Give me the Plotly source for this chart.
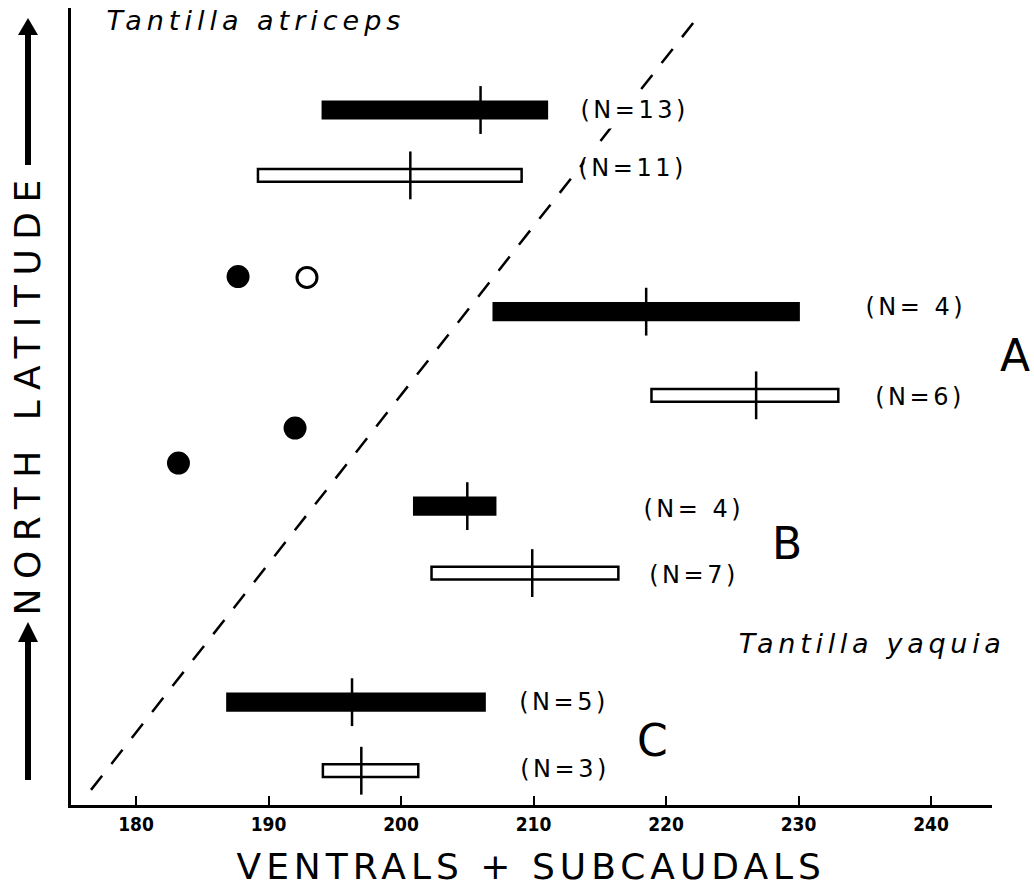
import json
import plotly.graph_objects as go

# ---------------- data ----------------
# horizontal range bars: ventrals+subcaudals, relative north-latitude position
bar_lat = [87.2, 79.0, 61.9, 51.4, 37.5, 29.1, 12.9, 4.3]
bar_min = [194.0, 189.2, 206.9, 218.9, 200.9, 202.3, 186.8, 194.1]
bar_max = [211.1, 209.1, 230.1, 233.0, 207.2, 216.4, 206.4, 201.3]
bar_mean = [206.0, 200.7, 218.5, 226.8, 205.0, 209.9, 196.3, 197.0]
bar_n = [13, 11, 4, 6, 4, 7, 5, 3]
bar_filled = [True, False, True, False, True, False, True, False]

# single specimens
dot_x = [187.7, 192.9, 192.0, 183.2]
dot_lat = [66.3, 66.2, 47.3, 42.9]
dot_filled = [True, False, True, True]

# dividing line between the two species
divider_x = [176.6, 222.6]
divider_lat = [1.9, 99.3]

x_ticks = [180, 190, 200, 210, 220, 230, 240]
group_labels = ["A", "B", "C"]
species = ["Tantilla atriceps", "Tantilla yaquia"]

# ---------------- layout constants (pixels) ----------------
W, H = 1034, 892
PX0, PX1, PY0, PY1 = 71, 992, 8, 805   # plot area in pixels
FONT = "DejaVu Sans, Verdana, sans-serif"


def pp(px, py):
    return (px - PX0) / (PX1 - PX0), (PY1 - py) / (PY1 - PY0)


fig = go.Figure()

fi = [i for i in range(len(bar_lat)) if bar_filled[i]]
oi = [i for i in range(len(bar_lat)) if not bar_filled[i]]
fig.add_trace(go.Bar(
    orientation="h",
    y=[bar_lat[i] for i in fi],
    x=[bar_max[i] - bar_min[i] for i in fi],
    base=[bar_min[i] for i in fi],
    width=2.4,
    marker=dict(color="#000000", line=dict(width=0)),
    showlegend=False, hoverinfo="skip",
))
fig.add_trace(go.Bar(
    orientation="h",
    y=[bar_lat[i] for i in oi],
    x=[bar_max[i] - bar_min[i] for i in oi],
    base=[bar_min[i] for i in oi],
    width=1.6,
    marker=dict(color="#ffffff", line=dict(width=2.5, color="#000000")),
    showlegend=False, hoverinfo="skip",
))

# mean marks
mx, my = [], []
for m, la in zip(bar_mean, bar_lat):
    mx += [m, m, None]
    my += [la - 3.0, la + 3.0, None]
fig.add_trace(go.Scatter(x=mx, y=my, mode="lines",
                         line=dict(color="#000000", width=2.5),
                         showlegend=False, hoverinfo="skip"))

# divider
fig.add_trace(go.Scatter(x=divider_x, y=divider_lat, mode="lines",
                         line=dict(color="#000000", width=2.5, dash="18px,15px"),
                         showlegend=False, hoverinfo="skip"))

# dots
fig.add_trace(go.Scatter(
    x=[x for x, f in zip(dot_x, dot_filled) if f],
    y=[y for y, f in zip(dot_lat, dot_filled) if f],
    mode="markers",
    marker=dict(size=23, color="#000000", opacity=1, line=dict(width=0)),
    showlegend=False, hoverinfo="skip"))
fig.add_trace(go.Scatter(
    x=[x for x, f in zip(dot_x, dot_filled) if not f],
    y=[y for y, f in zip(dot_lat, dot_filled) if not f],
    mode="markers",
    marker=dict(size=20, color="#ffffff", opacity=1,
                line=dict(width=3, color="#000000")),
    showlegend=False, hoverinfo="skip"))

annotations = []
spacing = []


def add_text(text, px, py, size, ls=0, italic=False, angle=0, bg=None, pad=0):
    x, y = pp(px, py)
    a = dict(
        text=text, x=x, y=y, xref="paper", yref="paper",
        xanchor="center", yanchor="middle", showarrow=False,
        textangle=angle, align="center", borderpad=pad,
        font=dict(family=FONT, size=size, color="#000000",
                  style="italic" if italic else "normal"))
    if bg:
        a["bgcolor"] = bg
    annotations.append(a)
    spacing.append(ls)


# N labels (the top two mask the dividing line like the original)
n_label_pos = [(634, 110), (632, 168), (916, 307), (920, 397),
               (694, 509), (694, 575), (564, 702), (565, 769)]
for k, (n, (px, py)) in enumerate(zip(bar_n, n_label_pos)):
    sp = "\u00a0" if n == 4 else ""
    if k < 2:
        add_text("(N=%s%d)" % (sp, n), px, py, 24, 3.5, bg="#ffffff", pad=4)
    else:
        add_text("(N=%s%d)" % (sp, n), px, py, 24, 3.5)

for g, (px, py) in zip(group_labels, [(1015, 355), (787, 543), (652, 740)]):
    add_text(g, px, py, 44, 0)

add_text(species[0], 256, 20, 27, 5, italic=True)
add_text(species[1], 872, 643, 27, 4.7, italic=True)
add_text("VENTRALS + SUBCAUDALS", 531, 866, 36, 5)
add_text("NORTH\u00a0LATITUDE", 28, 393, 36, 9.5, angle=-90)

# arrows on the left
shapes = []


def tri(tip, half, base_y):
    x0, y0 = pp(*tip)
    x1, y1 = pp(tip[0] - half, base_y)
    x2, y2 = pp(tip[0] + half, base_y)
    return dict(type="path", xref="paper", yref="paper",
                path="M %f %f L %f %f L %f %f Z" % (x0, y0, x1, y1, x2, y2),
                fillcolor="#000000", line=dict(width=0))


def rect(px0, py0, px1, py1):
    x0, y0 = pp(px0, py0)
    x1, y1 = pp(px1, py1)
    return dict(type="rect", xref="paper", yref="paper",
                x0=x0, y0=y0, x1=x1, y1=y1,
                fillcolor="#000000", line=dict(width=0))


shapes.append(tri((28, 18), 10, 35))
shapes.append(rect(25, 33, 31, 165))
shapes.append(tri((28, 622), 10, 642))
shapes.append(rect(25, 640, 31, 780))

fig.update_layout(
    width=W, height=H,
    margin=dict(l=PX0, r=W - PX1, t=PY0, b=H - PY1, pad=0),
    paper_bgcolor="white", plot_bgcolor="white",
    barmode="overlay",
    annotations=annotations, shapes=shapes,
    xaxis=dict(range=[175.09, 244.6], tickvals=x_ticks,
               ticks="inside", ticklen=9, tickwidth=2, tickcolor="#000000",
               showline=True, linecolor="#000000", linewidth=3,
               showgrid=False, zeroline=False,
               tickfont=dict(family="Liberation Sans Narrow, DejaVu Sans Condensed, Arial Narrow, sans-serif",
                             size=19, color="#000000", weight="bold")),
    yaxis=dict(range=[0, 100], showticklabels=False, ticks="",
               showline=True, linecolor="#000000", linewidth=3,
               showgrid=False, zeroline=False),
)

js = ("document.body.style.margin='0';document.body.style.overflow='hidden';"
      "var gd=document.getElementById('{plot_id}');var ls=%s;"
      "gd.querySelectorAll('g.annotation').forEach(function(g){"
      "var i=+g.getAttribute('data-index');var t=g.querySelector('text');"
      "if(t&&ls[i]){t.style.letterSpacing=ls[i]+'px';}});") % json.dumps(spacing)

fig.write_html("out.html", post_script=js, config={"displayModeBar": False})
